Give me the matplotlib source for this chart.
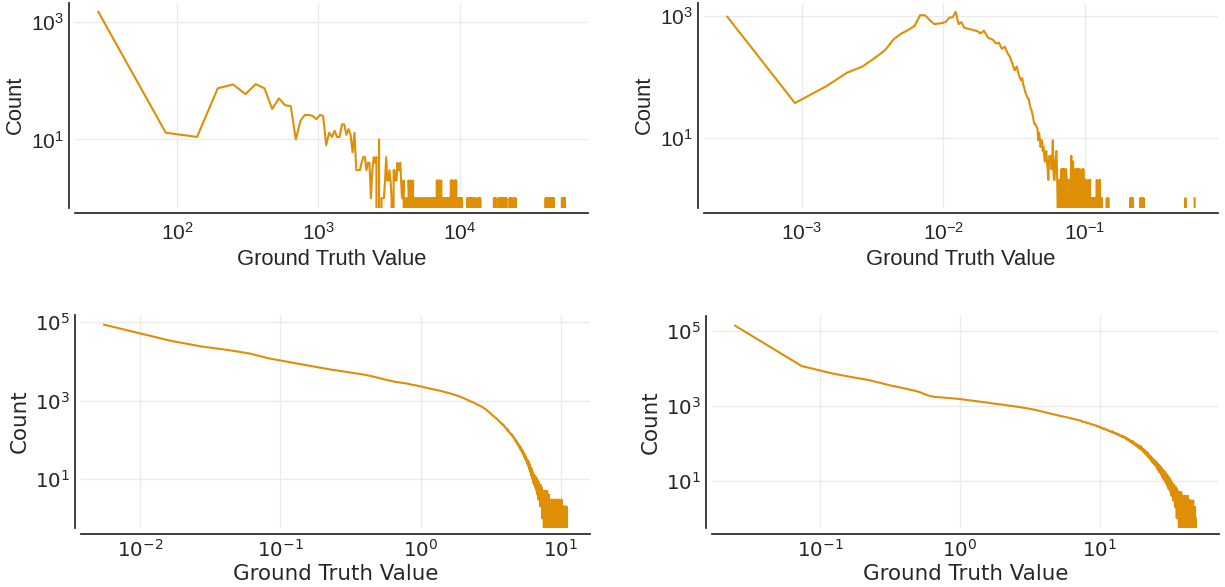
import matplotlib.pyplot as plt
import numpy as np

N_BINS = 1000

# top left: histogram with 1000 bins of width 55.5, first bins typed, sparse tail
tl_bin_width = 55.5
tl_head_counts = [
    1480, 13, 11, 74, 86, 59, 87, 74, 33, 50,
    38, 37, 10, 21, 26, 26, 25, 22, 26, 25,
    8, 13, 11, 14, 11, 11, 18, 18, 12, 15,
    12, 6, 13, 3, 3, 3, 4, 5, 5, 3,
    4, 4, 1, 3, 5, 4, 5, 0, 10, 0,
    1, 1, 1, 2, 5, 2, 2, 3, 2, 1,
    0, 3, 3, 2, 2, 4, 3, 3, 4, 2,
    1, 1, 2, 0,
]
tl_tail_bins = [
    74, 76, 78, 79, 81, 83, 84, 86, 88, 89, 91, 93, 95, 97, 98, 100, 102, 104,
    105, 107, 109, 111, 112, 114, 116, 118, 120, 122, 124, 126, 127, 129, 131,
    133, 135, 137, 139, 142, 145, 147, 149, 151, 153, 156, 158, 160, 162, 164,
    166, 168, 170, 172, 174, 177, 179, 182, 184, 187, 204, 207, 210, 213, 216,
    219, 222, 225, 231, 235, 244, 248, 252, 315, 320, 325, 340, 346, 352, 358,
    364, 370, 376, 382, 386, 407, 413, 419, 423, 437, 443, 449, 732, 740, 748,
    756, 764, 772, 780, 788, 796, 804, 812, 820, 830, 837, 955, 962, 970, 978,
    986, 993, 999,
]
tl_tail_counts = [
    1, 1, 2, 1, 2, 1, 2, 1, 1, 1, 1, 1, 1, 1, 1, 1, 1, 1,
    1, 1, 1, 1, 1, 1, 1, 1, 1, 1, 2, 1, 2, 2, 1,
    2, 1, 1, 1, 1, 1, 1, 1, 1, 1, 2, 2, 2, 1, 1,
    2, 2, 2, 1, 1, 1, 1, 1, 1, 1, 1, 1, 1, 1, 1,
    1, 1, 1, 1, 1, 1, 1, 1, 1, 1, 1, 1, 1, 1, 1,
    1, 1, 1, 1, 1, 1, 1, 1, 1, 1, 1, 1, 1, 1, 1,
    1, 1, 1, 1, 1, 1, 1, 1, 1, 1, 1, 1, 1, 1, 1,
    1, 1, 1,
]

# top right: same layout, bin width 5.95e-4
tr_bin_width = 5.95e-4
tr_head_counts = [
    975, 37, 70, 117, 148, 205, 275, 420, 520, 595,
    690, 1040, 1030, 850, 740, 755, 770, 810, 950, 955,
    1180, 740, 800, 650, 630, 615, 600, 590, 575, 560,
    520, 545, 575, 510, 450, 430, 420, 410, 380, 355,
    360, 365, 320, 290, 300, 315, 280, 250, 230, 215,
    190, 165, 145, 128, 140, 148, 120, 105, 95, 88,
    95, 75, 66, 57, 52, 47, 44, 42, 34, 30,
    28, 24, 20, 17, 17, 16, 15, 14, 9, 12,
    10, 7, 8, 9, 6, 7, 5, 4, 5, 6,
    4, 3, 2, 4, 5, 4, 5, 3, 4, 9,
    3, 2, 2, 4, 5, 6, 3, 1, 0, 2,
    2, 1, 1, 0, 3, 0, 3, 2, 3, 0,
    3, 2, 0, 3, 2, 2, 0, 1, 2, 0,
    2, 2, 0, 3, 5, 0, 4, 2, 4, 0,
    3, 0, 1, 0, 3, 3, 0, 1, 3, 0,
    3, 1, 0, 3, 3, 0, 2, 1, 2, 0,
    1, 3, 0, 3, 1, 0, 0, 0, 0, 1,
    2, 0, 2, 1, 0, 1, 0, 1, 0, 2,
    0, 1, 2, 0, 1, 0, 1, 1, 0, 1,
]
tr_tail_bins = [192, 195, 199, 203, 206, 209, 212, 214, 217, 220, 239, 245,
                350, 355, 360, 366, 413, 418, 424, 430, 436, 860, 999]
tr_tail_counts = [1, 1, 1, 2, 1, 1, 2, 2, 1, 1, 1, 1,
                  1, 1, 1, 1, 1, 1, 1, 1, 1, 1, 1]

# bottom left: bin width 0.0111, smooth part read at selected bins, tail every 5th bin
bl_bin_width = 0.0111
bl_bins = [0, 1, 2, 3, 4, 5, 7, 9, 12, 16, 20, 25, 30, 35, 40, 45, 50, 60, 70,
           80, 90, 100, 110, 120, 130, 140, 150, 160, 170, 180, 190]
bl_counts = [85300, 33000, 23600, 20200, 17600, 15600, 11800, 10100, 8450, 7080,
             6170, 5470, 4950, 4570, 4150, 3750, 3400, 2960, 2740, 2480, 2290,
             2080, 1940, 1810, 1690, 1575, 1470, 1370, 1270, 1170, 1075]
bl_tail_start = 200
bl_tail_counts = [
    990, 940, 925, 880, 850, 815, 780, 755, 720, 690,
    670, 630, 615, 575, 540, 525, 490, 470, 440, 410,
    400, 370, 360, 335, 330, 300, 295, 270, 265, 240,
    245, 220, 215, 195, 195, 170, 178, 155, 150, 140,
    142, 125, 128, 110, 112, 96, 100, 84, 90, 74,
    78, 64, 70, 55, 62, 48, 54, 42, 47, 36,
    42, 31, 36, 26, 31, 22, 28, 18, 24, 15,
    20, 12, 18, 10, 15, 8, 13, 7, 12, 6,
    11, 5, 10, 4, 9, 3, 8, 3, 7, 2,
    7, 2, 6, 1, 5, 1, 5, 0, 4, 1,
    5, 0, 4, 1, 5, 0, 3, 0, 4, 1,
    3, 0, 2, 0, 3, 0, 2, 0, 3, 0,
    2, 0, 3, 0, 2, 0, 2, 1, 3, 0,
    2, 0, 2, 0, 3, 0, 2, 0, 2, 0,
    2, 0, 3, 0, 2, 0, 1, 0, 2, 0,
    2, 0, 1, 0, 2, 0, 1, 0, 2, 0,
]

# bottom right: bin width 0.0491
br_bin_width = 0.0491
br_bins = [0, 1, 2, 3, 4, 5, 6, 7, 8, 9, 10, 11, 12, 13, 15, 18, 20, 25, 30, 35,
           40, 45, 50, 55, 60, 65, 70, 75, 80, 85, 90, 95, 100, 110, 120, 130, 140]
br_counts = [136000, 11400, 7200, 5700, 4850, 4050, 3450, 3100, 2800, 2550,
             2300, 2000, 1800, 1720, 1650, 1560, 1500, 1350, 1240, 1140,
             1075, 1010, 950, 910, 860, 820, 775, 730, 685, 650,
             615, 590, 560, 520, 485, 450, 420]
br_tail_start = 150
br_tail_counts = [
    395, 365, 370, 340, 345, 320, 322, 300, 305, 278,
    285, 258, 265, 240, 250, 225, 232, 212, 218, 198,
    210, 188, 195, 176, 184, 165, 172, 155, 162, 145,
    156, 138, 146, 128, 136, 120, 128, 110, 118, 102,
    115, 96, 104, 88, 98, 82, 92, 76, 86, 70,
    84, 66, 75, 60, 70, 55, 64, 50, 60, 46,
    56, 42, 50, 38, 46, 34, 42, 31, 38, 29,
    36, 26, 34, 24, 31, 21, 28, 19, 27, 17,
    25, 16, 23, 14, 21, 12, 19, 11, 18, 10,
    17, 9, 15, 8, 14, 7, 13, 6, 12, 6,
    11, 5, 10, 4, 9, 4, 8, 3, 8, 3,
    7, 2, 7, 2, 6, 1, 6, 2, 5, 1,
    5, 0, 5, 1, 4, 0, 5, 1, 4, 0,
    4, 0, 3, 1, 4, 0, 3, 0, 4, 1,
    3, 0, 3, 0, 4, 0, 2, 1, 3, 0,
    3, 0, 2, 0, 3, 0, 2, 0, 2, 1,
    3, 0, 2, 0, 2, 0, 2, 0, 1, 0,
]

LINE_COLOR = "#de8f05"
TEXT_COLOR = "#262626"


def dense_hist(head, tail_bins, tail_counts, width):
    counts = np.zeros(N_BINS)
    counts[:len(head)] = head
    counts[tail_bins] = tail_counts
    centers = (np.arange(N_BINS) + 0.5) * width
    return centers, counts


def sampled_hist(bins, counts, tail_start, tail_counts, width):
    tail_bins = list(range(tail_start, tail_start + 5 * len(tail_counts), 5))
    all_bins = np.array(bins + tail_bins)
    return (all_bins + 0.5) * width, np.array(counts + tail_counts, dtype=float)


plt.rcParams["text.color"] = TEXT_COLOR
plt.rcParams["axes.labelcolor"] = TEXT_COLOR

W, H = 1225, 587
fig = plt.figure(figsize=(W / 100, H / 100), dpi=100)


def add_axes(left, right, top, bottom):
    return fig.add_axes([left / W, 1 - bottom / H, (right - left) / W, (bottom - top) / H])


# top row uses an Arial-like face, bottom row DejaVu Sans
top_font = ["Liberation Sans", "DejaVu Sans"]
bottom_font = ["DejaVu Sans"]

panels = [
    (add_axes(75, 588, 2.5, 207.5),
     dense_hist(tl_head_counts, tl_tail_bins, tl_tail_counts, tl_bin_width),
     [1e2, 1e3, 1e4], [1e1, 1e3], top_font, 15, 15.8, 6, 3.5),
    (add_axes(704, 1218, 2.5, 207.5),
     dense_hist(tr_head_counts, tr_tail_bins, tr_tail_counts, tr_bin_width),
     [1e-3, 1e-2, 1e-1], [1e1, 1e3], top_font, 15, 15.8, 6, 3.5),
    (add_axes(81, 590, 315, 528),
     sampled_hist(bl_bins, bl_counts, bl_tail_start, bl_tail_counts, bl_bin_width),
     [1e-2, 1e-1, 1e0, 1e1], [1e1, 1e3, 1e5], bottom_font, 14.3, 15.4, 3.5, 2),
    (add_axes(712, 1219, 316, 528),
     sampled_hist(br_bins, br_counts, br_tail_start, br_tail_counts, br_bin_width),
     [1e-1, 1e0, 1e1], [1e1, 1e3, 1e5], bottom_font, 14.3, 15.4, 3.5, 2),
]

for ax, (x, y), xticks, yticks, family, tick_size, label_size, xpad, xlabelpad in panels:
    ax.plot(x, y, color=LINE_COLOR, lw=1.5)
    ax.set_xscale("log")
    ax.set_yscale("log")
    ax.set_xticks(xticks)
    ax.set_yticks(yticks)
    ax.set_axisbelow(True)
    ax.grid(True, which="major", color="#ebebeb", lw=1)
    ax.tick_params(which="both", length=0, labelsize=tick_size, labelcolor=TEXT_COLOR,
                   labelfontfamily=family)
    ax.tick_params(axis="x", pad=xpad)
    for side in ["top", "right"]:
        ax.spines[side].set_visible(False)
    for side in ["left", "bottom"]:
        ax.spines[side].set_position(("outward", 4.3))
        ax.spines[side].set_color(TEXT_COLOR)
        ax.spines[side].set_linewidth(1.25)
    ax.set_xlabel("Ground Truth Value", fontsize=label_size, family=family,
                  labelpad=xlabelpad)
    ax.set_ylabel("Count", fontsize=label_size, family=family)

fig.savefig("out.png", dpi=100)
